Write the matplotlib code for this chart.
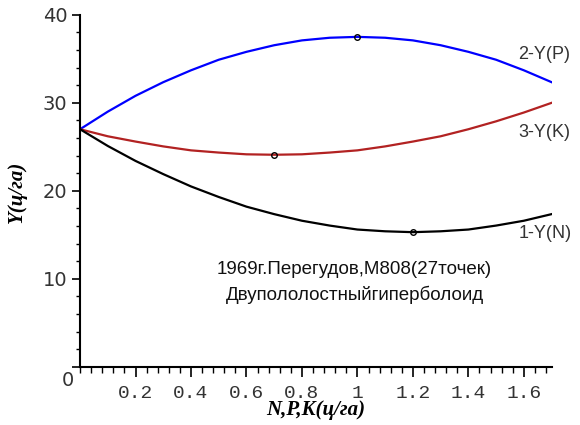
"""Yield response curves: Perегудов 1969, M808."""

import matplotlib
matplotlib.use("Agg")
import matplotlib.pyplot as plt
from matplotlib.ticker import MultipleLocator

# dose grid (ц/га) and yields
dose = [0.0, 0.1, 0.2, 0.3, 0.4, 0.5, 0.6, 0.7, 0.8, 0.9,
        1.0, 1.1, 1.2, 1.3, 1.4, 1.5, 1.6, 1.7]
y_p = [27.0, 29.0, 30.8, 32.35, 33.7, 34.9, 35.8, 36.55, 37.1, 37.4,
       37.5, 37.4, 37.1, 36.55, 35.8, 34.9, 33.7, 32.35]
y_k = [27.0, 26.2, 25.6, 25.05, 24.6, 24.35, 24.15, 24.1, 24.15, 24.35,
       24.6, 25.05, 25.6, 26.2, 27.0, 27.9, 28.9, 30.0]
y_n = [27.0, 25.1, 23.4, 21.9, 20.5, 19.3, 18.2, 17.35, 16.6, 16.05,
       15.6, 15.4, 15.3, 15.4, 15.6, 16.05, 16.6, 17.35]

# optimum points marked with circles
opt_x = [1.0, 0.7, 1.2]
opt_y = [37.5, 24.1, 15.3]

curve_labels = ["2-Y(P)", "3-Y(K)", "1-Y(N)"]
label_y = [35.5, 26.6, 15.2]

x_ticks = [0.2, 0.4, 0.6, 0.8, 1.0, 1.2, 1.4, 1.6]
x_tick_labels = ["0.2", "0.4", "0.6", "0.8", "1", "1.2", "1.4", "1.6"]
y_ticks = [0, 10, 20, 30, 40]
y_tick_labels = ["", "10", "20", "30", "40"]

note = "1969г.Перегудов,M808(27точек)\nДвупололостныйгиперболоид"

fig = plt.figure(figsize=(5.8, 4.25), dpi=100)
ax = fig.add_axes([0.138, 0.137, 0.813, 0.828])

ax.plot(dose, y_p, color="#0000ff", linewidth=1.6)
ax.plot(dose, y_k, color="#b22222", linewidth=1.6)
ax.plot(dose, y_n, color="black", linewidth=1.6)
ax.plot(opt_x, opt_y, linestyle="none", marker="o", markersize=4,
        markerfacecolor="none", markeredgecolor="black", markeredgewidth=1)

ax.set_xlim(0, 1.7)
ax.set_ylim(0, 40)

# curve names at the right end
for lab, ly in zip(curve_labels, label_y):
    ax.text(1.58, ly, lab, fontsize=13, family="Liberation Sans",
            color="#333333", va="center", ha="left")

ax.text(0.99, 9.6, note, fontsize=13.5, family="Liberation Sans",
        ha="center", va="center", linespacing=1.5, color="#111111")

# spines like Maple axes
for side in ["top", "right"]:
    ax.spines[side].set_visible(False)
ax.spines["left"].set_linewidth(1.5)
ax.spines["bottom"].set_linewidth(1.5)

ax.set_xticks(x_ticks)
ax.set_xticklabels(x_tick_labels, family="Liberation Mono", fontsize=14,
                   color="#333333")
ax.xaxis.set_minor_locator(MultipleLocator(0.04))
ax.set_yticks(y_ticks)
ax.set_yticklabels(y_tick_labels, family="DejaVu Sans", fontsize=14,
                   color="#333333")
ax.yaxis.set_minor_locator(MultipleLocator(2))
ax.tick_params(axis="x", which="major", length=7, width=1.2, direction="out", pad=6)
ax.tick_params(axis="x", which="minor", length=4, width=1.0, direction="out")
ax.tick_params(axis="y", which="major", length=6, width=1.2, direction="out", pad=3)
ax.tick_params(axis="y", which="minor", length=3, width=1.0, direction="out")

# shared origin label below the corner
ax.annotate("0", xy=(0, 0), xytext=(-9, -10), textcoords="offset points",
            fontsize=14, family="DejaVu Sans", color="#333333",
            ha="center", va="center")

ax.set_xlabel("N,P,K(ц/га)", family="Liberation Serif", fontsize=15,
              fontweight="bold", style="italic", labelpad=-1)
ax.set_ylabel("Y(ц/га)", family="Liberation Serif", fontsize=15,
              fontweight="bold", style="italic")
ax.yaxis.set_label_coords(-0.113, 0.497)

fig.savefig("out.png", dpi=100)
